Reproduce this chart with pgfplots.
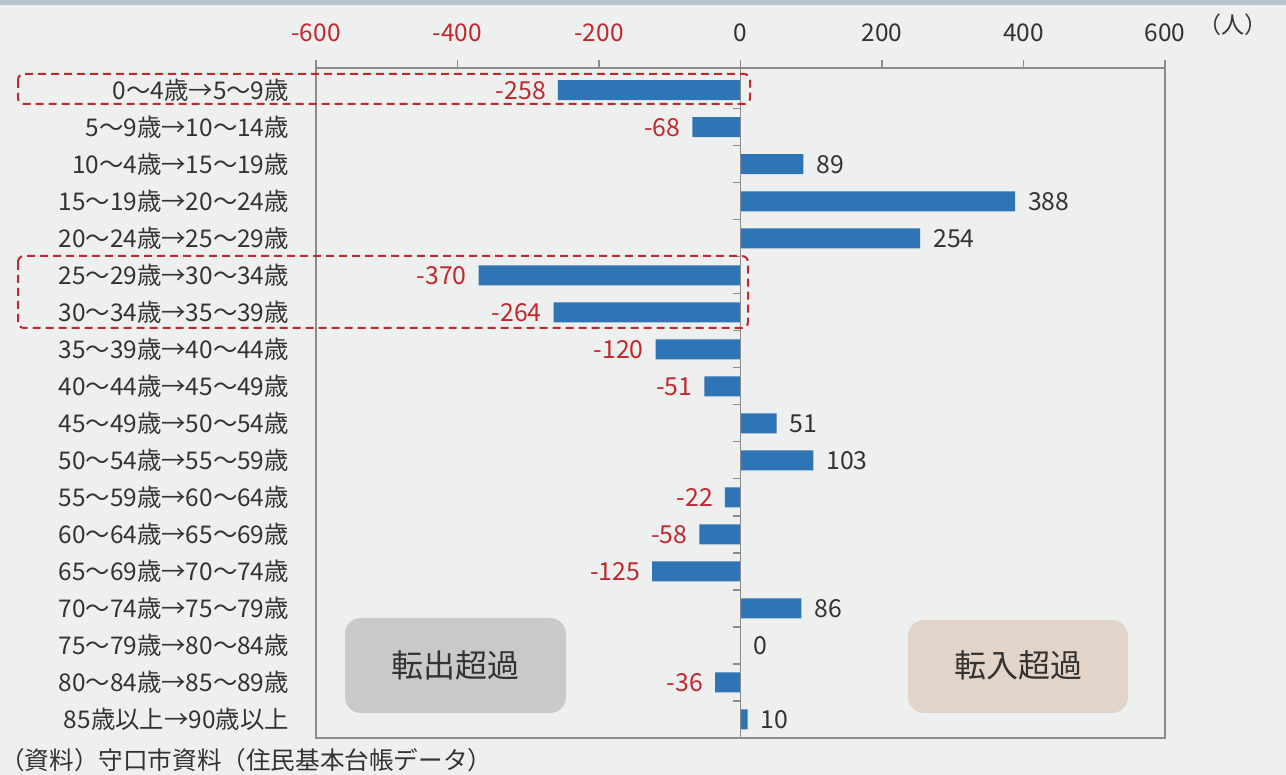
\documentclass[border=0pt]{standalone}
\usepackage{pgfplots}
\pgfplotsset{compat=1.18}
\usepackage{fontspec}
\setmainfont{Noto Sans CJK JP}
\definecolor{barblue}{HTML}{2F74B5}
\definecolor{lblred}{HTML}{C1272D}
\definecolor{txt}{HTML}{333333}
\definecolor{bg}{HTML}{EEF0EF}
\definecolor{axgray}{HTML}{8C8C8C}
\definecolor{boxgray}{HTML}{C8CACA}
\definecolor{boxbeige}{HTML}{E3D4C9}
\definecolor{band}{HTML}{B8C4CC}
\begin{document}
\begin{tikzpicture}
\fill[bg] (0,0) rectangle (643pt,387.5pt);
\fill[band] (0,385pt) rectangle (643pt,387.5pt);
\begin{axis}[
  at={(158pt,18.5pt)}, anchor=south west,
  width=424.5pt, height=335pt, scale only axis,
  xbar, bar width=10pt, bar shift=0pt,
  xmin=-600, xmax=600, ymin=-0.6, ymax=17.5, y dir=reverse,
  axis line style={axgray, line width=0.6pt},
  xtick={-600,-400,-200,0,200,400,600},
  xticklabels={{\color{lblred}-600},{\color{lblred}-400},{\color{lblred}-200},0,200,400,600},
  xticklabel pos=upper, xtick pos=upper,
  tick align=outside,
  major tick length=4pt,
  x tick style={axgray, line width=0.6pt},
  xticklabel style={font=\fontsize{12.2}{14}\selectfont, text=txt, yshift=5.5pt},
  ytick={0,...,17},
  y tick style={draw=none},
  yticklabel style={font=\fontsize{12.2}{14}\selectfont, text=txt, anchor=east, xshift=-6pt},
  yticklabels={0～4歳→5～9歳,5～9歳→10～14歳,10～4歳→15～19歳,15～19歳→20～24歳,20～24歳→25～29歳,25～29歳→30～34歳,30～34歳→35～39歳,35～39歳→40～44歳,40～44歳→45～49歳,45～49歳→50～54歳,50～54歳→55～59歳,55～59歳→60～64歳,60～64歳→65～69歳,65～69歳→70～74歳,70～74歳→75～79歳,75～79歳→80～84歳,80～84歳→85～89歳,85歳以上→90歳以上},
  point meta=explicit symbolic,
  nodes near coords,
  every node near coord/.append style={font=\fontsize{12.4}{14}\selectfont},
]
\addplot[fill=barblue, draw=none,
  nodes near coords style={anchor=east, xshift=-2.5pt, text=lblred}]
  coordinates {(-258,0)[-258] (-68,1)[-68] (-370,5)[-370] (-264,6)[-264] (-120,7)[-120] (-51,8)[-51] (-22,11)[-22] (-58,12)[-58] (-125,13)[-125] (-36,16)[-36]};
\addplot[fill=barblue, draw=none,
  nodes near coords style={anchor=west, xshift=3pt, text=txt}]
  coordinates {(89,2)[89] (388,3)[388] (254,4)[254] (51,9)[51] (103,10)[103] (86,14)[86] (0,15)[0] (10,17)[10]};
\draw[axgray, line width=0.6pt] (axis cs:0,-0.6) -- (axis cs:0,17.5);
\pgfplotsinvokeforeach{0.5,1.5,2.5,3.5,4.5,5.5,6.5,7.5,8.5,9.5,10.5,11.5,12.5,13.5,14.5,15.5,16.5}{
  \draw[axgray, line width=0.6pt] (axis cs:0,#1) -- ++(-3.5pt,0pt);
}
\end{axis}
\begin{scope}[x=0.5pt, y=-0.5pt, shift={(0pt,387.5pt)}]
  \draw[lblred, line width=1pt, dash pattern=on 4pt off 2.5pt, rounded corners=3pt] (18,74) rectangle (750,104);
  \draw[lblred, line width=1pt, dash pattern=on 4pt off 2.5pt, rounded corners=3pt] (18,256) rectangle (748,328);
  \fill[boxgray, rounded corners=8pt] (345,618) rectangle (566,713);
  \node[text=txt, font=\fontsize{16}{18}\selectfont] at (455,665) {転出超過};
  \fill[boxbeige, rounded corners=8pt] (908,620) rectangle (1128,713);
  \node[text=txt, font=\fontsize{16}{18}\selectfont] at (1018,665) {転入超過};
  \node[text=txt, font=\fontsize{12.3}{14}\selectfont, anchor=west, inner sep=0pt] at (0,760) {（資料）守口市資料（住民基本台帳データ）};
  \node[text=txt, font=\fontsize{11.5}{13}\selectfont, anchor=west, inner sep=0pt] at (1198,25) {（人）};
\end{scope}
\end{tikzpicture}
\end{document}
